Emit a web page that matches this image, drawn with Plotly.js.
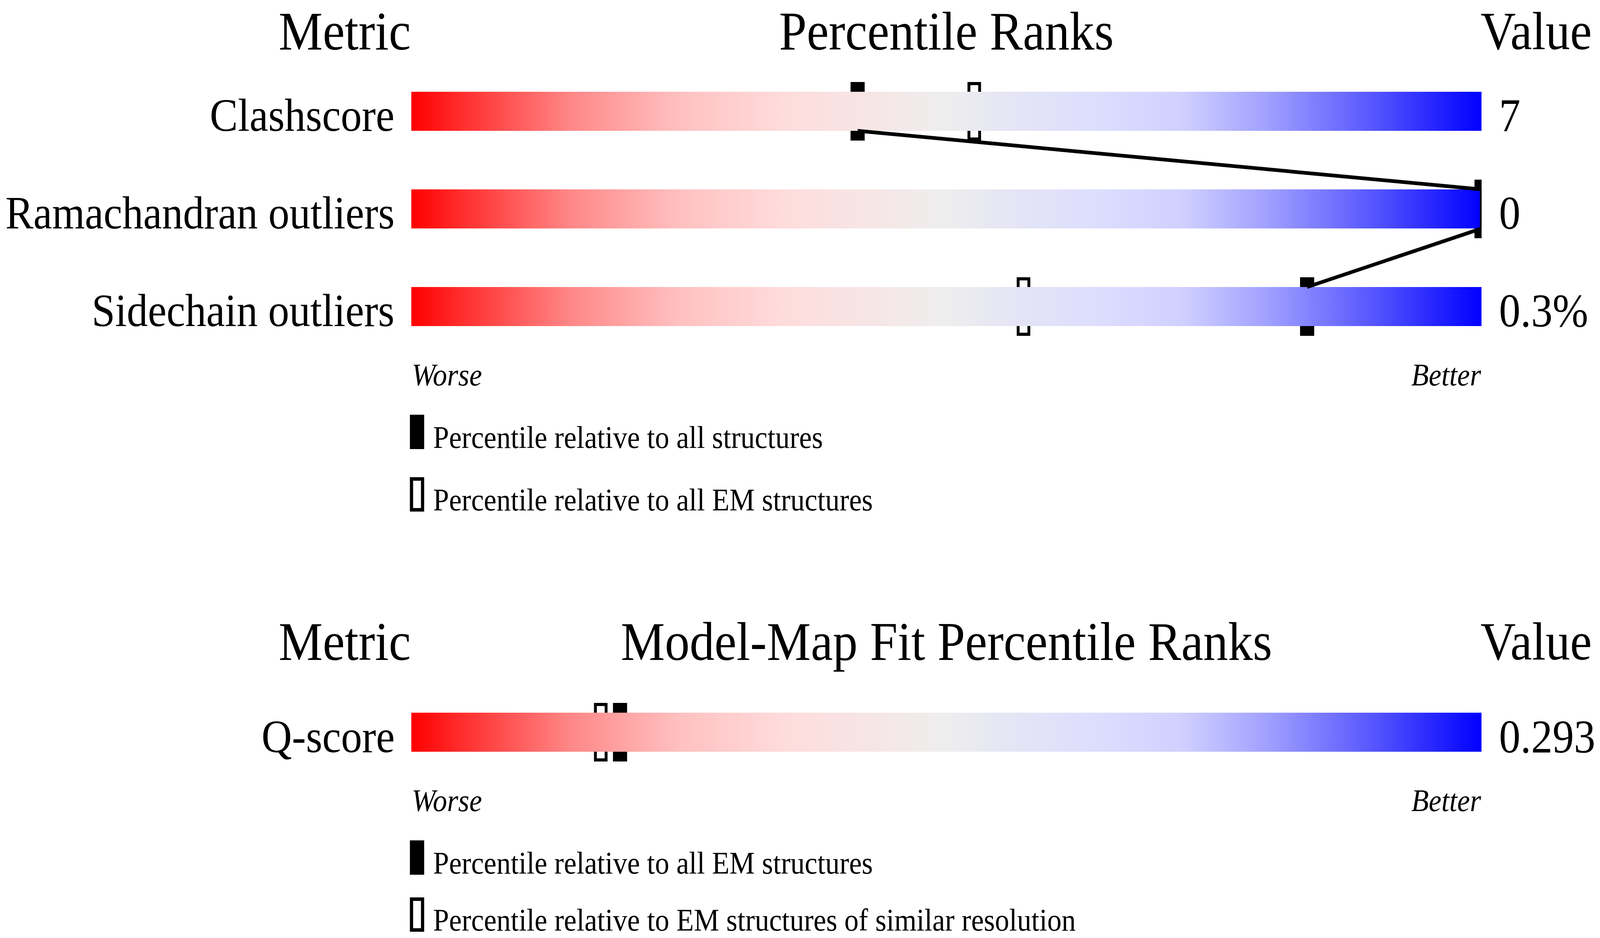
<!DOCTYPE html>
<html>
<head>
<meta charset="utf-8">
<script src="https://cdn.plot.ly/plotly-3.0.1.min.js"></script>
<style>
  html, body { margin: 0; padding: 0; background: #fff; overflow: hidden; }
  #myDiv { width: 4485px; height: 2402px; transform-origin: 0 0; }
</style>
</head>
<body>
<div id="myDiv"></div>
<script>
// validation metrics (upper panel)
var metrics = ['Clashscore', 'Ramachandran outliers', 'Sidechain outliers'];
var metricValues = ['7', '0', '0.3%'];
var pctAll = [41.7, 100, 83.7];      // relative to all structures
var pctEM = [52.6, 100, 57.2];       // relative to all EM structures

// model-map fit (lower panel)
var fitMetrics = ['Q-score'];
var fitValues = ['0.293'];
var fitPctEM = [19.5];               // relative to all EM structures
var fitPctRes = [17.7];              // relative to EM structures of similar resolution

var W = 4485, H = 2402;
var X0 = 1153, X1 = 4153;            // slider left/right in pixels
var FONT = 'Liberation Serif, Times New Roman, serif';

var sliderScale = [
  [0, '#ff0000'], [0.05, '#ff3030'], [0.15, '#ff8888'], [0.25, '#ffc0c0'],
  [0.35, '#ffdcdc'], [0.45, '#f4e8e8'], [0.5, '#eeeeee'], [0.55, '#e6e6f4'],
  [0.65, '#dcdcff'], [0.72, '#d0d0ff'], [0.8, '#a0a0ff'], [0.9, '#5555ff'],
  [1, '#0000ff']
];

var HALF = 0.2;        // half height of slider bar (row units)
var FILL_W = 1.32;     // filled marker width (percent units)
var OPEN_W = 1.0;      // open marker width before its outline
var MARK_H = 0.6;
var OPEN_H = 0.568;

function px(x) { return x / W; }
function py(y) { return 1 - y / H; }

function sliders(n, xa, ya) {
  var xs = [], ys = [];
  for (var i = 0; i < n; i++) {
    xs.push(0, 100, 100, 0, 0, null);
    ys.push(i - HALF, i - HALF, i + HALF, i + HALF, i - HALF, null);
  }
  return {
    x: xs, y: ys, xaxis: xa, yaxis: ya,
    type: 'scatter', mode: 'lines', fill: 'toself',
    line: {width: 0, color: 'rgba(0,0,0,0)'},
    fillgradient: {type: 'horizontal', colorscale: sliderScale, start: 0, stop: 100},
    hoverinfo: 'skip', showlegend: false
  };
}

function joinLine(p, xa, ya) {
  var xs = [], ys = [];
  for (var i = 0; i < p.length; i++) {
    if (i > 0) { xs.push(p[i]); ys.push(i - HALF); }
    if (i < p.length - 1) { xs.push(p[i]); ys.push(i + HALF); }
  }
  return {
    x: xs, y: ys, xaxis: xa, yaxis: ya, type: 'scatter', mode: 'lines',
    line: {color: '#000', width: 9.5}, hoverinfo: 'skip', showlegend: false
  };
}

function markers(p, filled, xa, ya) {
  var w = filled ? FILL_W : OPEN_W;
  return {
    type: 'bar', orientation: 'h', xaxis: xa, yaxis: ya,
    y: p.map(function (v, i) { return i; }),
    x: p.map(function () { return w; }),
    base: p.map(function (v) { return v - w / 2; }),
    width: filled ? MARK_H : OPEN_H,
    marker: filled ? {color: '#000', line: {width: 0}}
                   : {color: 'rgba(0,0,0,0)', line: {color: '#000', width: 8}},
    hoverinfo: 'skip', showlegend: false
  };
}

var data = [
  sliders(metrics.length, 'x', 'y'),
  joinLine(pctAll, 'x', 'y'),
  markers(pctEM, false, 'x', 'y'),
  markers(pctAll, true, 'x', 'y'),
  sliders(fitMetrics.length, 'x2', 'y2'),
  markers(fitPctRes, false, 'x2', 'y2'),
  markers(fitPctEM, true, 'x2', 'y2')
];

var annotations = [];
var shapes = [];

function txt(o) {
  var a = {showarrow: false, borderpad: 0,
    font: {family: FONT, size: o.size || 120, color: '#000', style: o.italic ? 'italic' : 'normal'}};
  for (var k in o) if (k !== 'size' && k !== 'italic') a[k] = o[k];
  annotations.push(a);
}

function headers(title, yPix) {
  txt({text: 'Metric', xref: 'paper', x: px(X0), xanchor: 'right', yref: 'paper', y: py(yPix), yanchor: 'middle', size: 139});
  txt({text: title, xref: 'paper', x: px((X0 + X1) / 2), xanchor: 'center', yref: 'paper', y: py(yPix), yanchor: 'middle', size: 139});
  txt({text: 'Value', xref: 'paper', x: px(X1), xanchor: 'left', xshift: -4, yref: 'paper', y: py(yPix), yanchor: 'middle', size: 137});
}

function rows(names, vals, xa, ya) {
  names.forEach(function (name, i) {
    txt({text: name, xref: xa, x: 0, xanchor: 'right', xshift: -46, yref: ya, y: i, yshift: -11, yanchor: 'middle', size: 118});
    txt({text: vals[i], xref: xa, x: 100, xanchor: 'left', xshift: 48, yref: ya, y: i, yshift: -11, yanchor: 'middle'});
  });
}

function worseBetter(xa, yPix) {
  txt({text: 'Worse', xref: xa, x: 0, xanchor: 'left', yref: 'paper', y: py(yPix), yanchor: 'middle', size: 80, italic: true});
  txt({text: 'Better', xref: xa, x: 100, xanchor: 'right', yref: 'paper', y: py(yPix), yanchor: 'middle', size: 80, italic: true});
}

function legendItem(label, filled, top) {
  var x0 = 1149, x1 = 1189, y0 = top, y1 = top + 88;
  if (filled) {
    shapes.push({type: 'rect', xref: 'paper', yref: 'paper', x0: px(x0), x1: px(x1), y0: py(y0), y1: py(y1),
      fillcolor: '#000', line: {width: 0}});
  } else {
    shapes.push({type: 'rect', xref: 'paper', yref: 'paper', x0: px(x0 + 4.5), x1: px(x1 - 4.5), y0: py(y0 + 4.5), y1: py(y1 - 4.5),
      fillcolor: 'rgba(0,0,0,0)', line: {width: 9, color: '#000'}});
  }
  txt({text: label, xref: 'paper', x: px(1213), xanchor: 'left', yref: 'paper', y: py(top + 58), yanchor: 'middle', size: 80});
}

headers('Percentile Ranks', 80);
rows(metrics, metricValues, 'x', 'y');
worseBetter('x', 960);
legendItem('Percentile relative to all structures', true, 1062);
legendItem('Percentile relative to all EM structures', false, 1222);

headers('Model-Map Fit Percentile Ranks', 1643);
rows(fitMetrics, fitValues, 'x2', 'y2');
worseBetter('x2', 2050);
legendItem('Percentile relative to all EM structures', true, 2152);
legendItem('Percentile relative to EM structures of similar resolution', false, 2298);

var layout = {
  width: W,
  height: H,
  margin: {l: 0, r: 0, t: 0, b: 0, pad: 0},
  paper_bgcolor: '#fff',
  plot_bgcolor: 'rgba(0,0,0,0)',
  showlegend: false,
  barmode: 'overlay',
  xaxis: {domain: [px(X0), px(X1)], range: [0, 100], visible: false, fixedrange: true},
  yaxis: {domain: [py(910), py(160)], range: [2.5, -0.5], visible: false, fixedrange: true},
  xaxis2: {domain: [px(X0), px(X1)], range: [0, 100], anchor: 'y2', visible: false, fixedrange: true},
  yaxis2: {domain: [py(2000), py(1750)], range: [0.5, -0.5], anchor: 'x2', visible: false, fixedrange: true},
  annotations: annotations,
  shapes: shapes
};

// the browser viewport can be narrower than the figure (width is capped),
// so stretch the fixed-size figure to fill it exactly
var sx = window.innerWidth / W, sy = window.innerHeight / H;
if (sx > 0 && sy > 0 && (Math.abs(sx - 1) > 0.001 || Math.abs(sy - 1) > 0.001)) {
  document.getElementById('myDiv').style.transform = 'scale(' + sx + ',' + sy + ')';
}

Plotly.newPlot('myDiv', data, layout, {displayModeBar: false, staticPlot: true});
</script>
</body>
</html>
